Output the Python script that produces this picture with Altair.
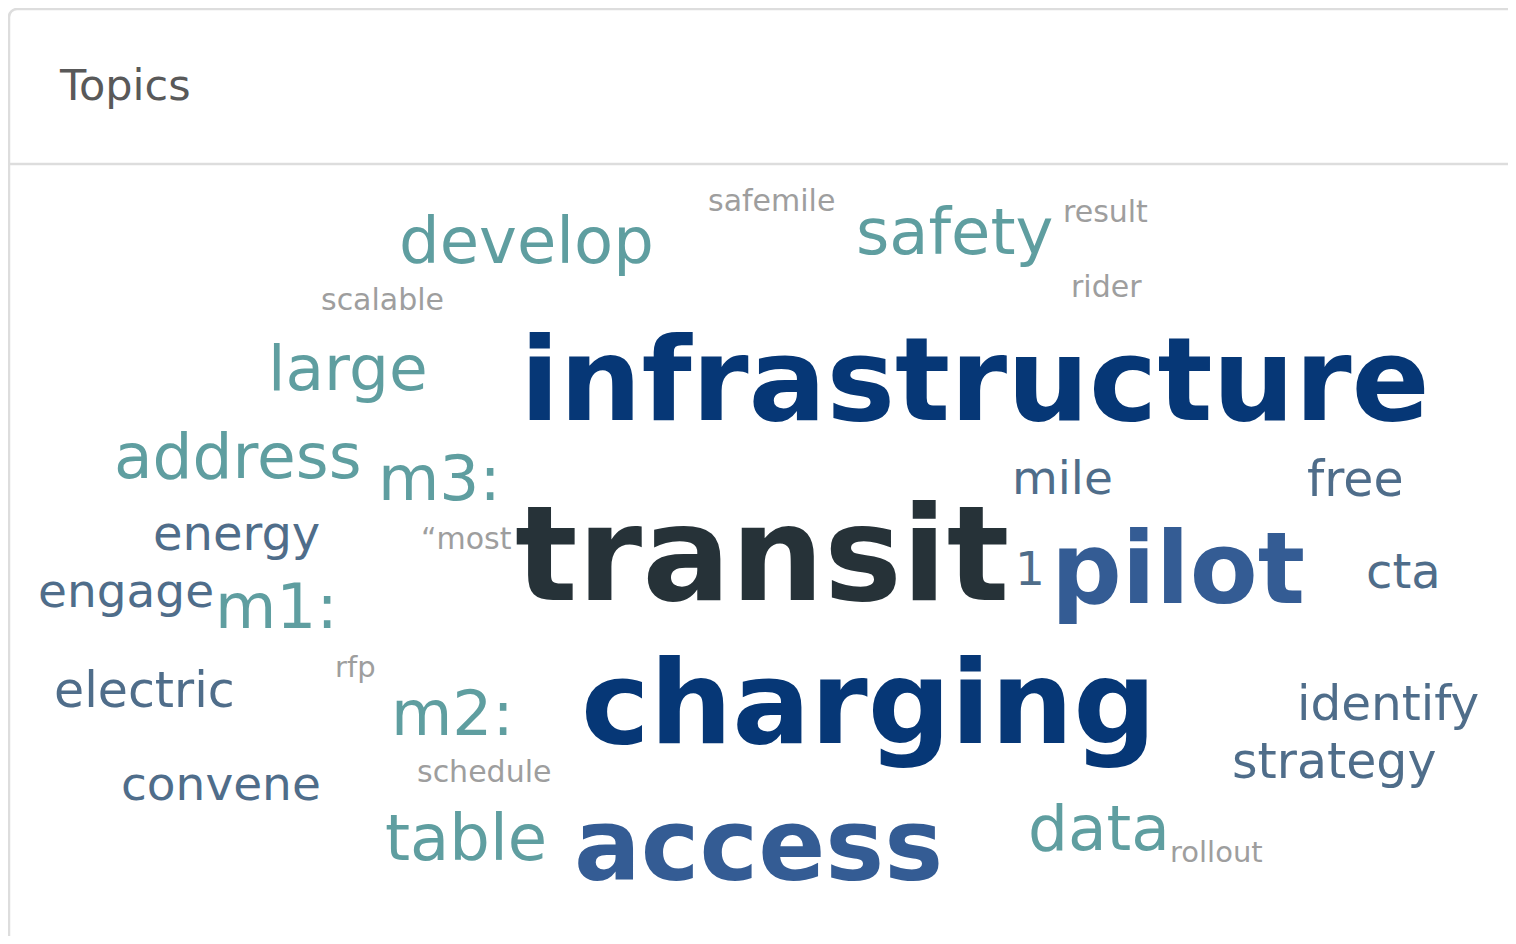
import altair as alt
import pandas as pd

# Word cloud content
words = ["infrastructure", "transit", "charging", "access", "pilot",
         "develop", "safety", "large", "address", "m3:", "m1:", "m2:", "table", "data",
         "mile", "free", "energy", "engage", "electric", "convene", "identify", "strategy", "cta", "1",
         "safemile", "result", "rider", "scalable", "\u201cmost", "rfp", "schedule", "rollout"]
groups = ["navy", "dark", "navy", "blue", "blue",
          "teal", "teal", "teal", "teal", "teal", "teal", "teal", "teal", "teal",
          "slate", "slate", "slate", "slate", "slate", "slate", "slate", "slate", "slate", "slate",
          "gray", "gray", "gray", "gray", "gray", "gray", "gray", "gray"]
weights = [115.3, 131, 116, 99, 99,
           64, 64, 63, 63, 63, 63, 63, 64, 63,
           47, 49, 48, 47, 49, 47, 48.5, 49, 48, 47,
           30, 30, 30, 30, 30, 29, 30, 29]
# layout of the cloud (left edge, baseline)
pos_x = [520, 515, 581, 574, 1051,
         399, 856, 268, 114, 378, 215, 391, 385, 1028,
         1012, 1307, 153, 38, 54, 121, 1297, 1232, 1366, 1015,
         708, 1063, 1071, 321, 421, 335, 417, 1170]
pos_y = [420, 600, 743, 880, 603,
         263, 254, 390, 478, 500, 628, 735, 860, 850,
         494, 496, 550, 607, 707, 800, 720, 778, 588, 585,
         211, 222, 297, 310, 549, 677, 782, 862]

df = pd.DataFrame({"word": words, "group": groups, "weight": weights,
                   "px": pos_x, "py": pos_y})
df["bold"] = df["weight"] >= 90

W, H = 1500, 928
xs = alt.Scale(domain=[8, 1508], nice=False, zero=False)
ys = alt.Scale(domain=[8, 936], nice=False, zero=False, reverse=True)
cscale = alt.Scale(domain=["navy", "dark", "blue", "teal", "slate", "gray"],
                   range=["#063776", "#263238", "#345c94", "#5f9ea0", "#4f6d8a", "#9e9e9e"])

one = alt.Data(values=[{}])

card = alt.Chart(one).mark_rect(fill="white", stroke="#dddddd", strokeWidth=2.5,
                                cornerRadius=8).encode(
    x=alt.value(1), y=alt.value(1), x2=alt.value(W + 30), y2=alt.value(H + 30))

sep = alt.Chart(one).mark_rule(color="#dddddd", strokeWidth=2.5).encode(
    x=alt.value(0), x2=alt.value(W + 10), y=alt.value(156))

title = alt.Chart(one).mark_text(text="Topics", font="DejaVu Sans", fontSize=43,
                                 color="#595959", align="left", baseline="alphabetic").encode(
    x=alt.value(52), y=alt.value(92))

base = alt.Chart(df).encode(
    x=alt.X("px:Q", scale=xs, axis=None),
    y=alt.Y("py:Q", scale=ys, axis=None),
    text="word:N",
    size=alt.Size("weight:Q", scale=None, legend=None),
    color=alt.Color("group:N", scale=cscale, legend=None),
)

regular = base.transform_filter("!datum.bold").mark_text(
    font="DejaVu Sans", align="left", baseline="alphabetic")
bold = base.transform_filter("datum.bold").mark_text(
    font="DejaVu Sans", fontWeight="bold", align="left", baseline="alphabetic")

chart = alt.layer(card, sep, title, regular, bold).properties(
    width=W, height=H, padding=0, autosize=alt.AutoSizeParams(type="none")
).configure_view(stroke=None)

chart.save("out.html", embed_options={"renderer": "svg", "actions": False})
